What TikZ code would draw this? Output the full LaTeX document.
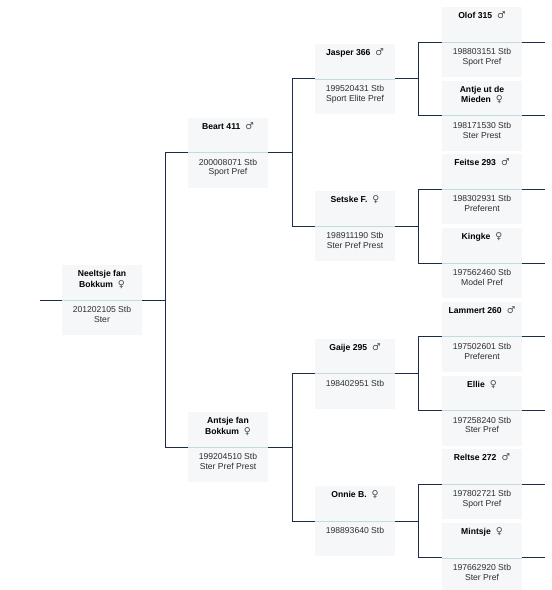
\documentclass[tikz,border=0pt]{standalone}
\usepackage{fontspec}
\setmainfont{Liberation Sans}
\newfontfamily\gsym{DejaVu Sans}
\definecolor{boxfill}{HTML}{F5F7F9}
\definecolor{sepcol}{HTML}{C3DCDA}
\definecolor{conncol}{HTML}{1E2B4A}
\definecolor{symgray}{HTML}{4A4A4A}
\definecolor{detcol}{HTML}{2E2E2E}
\newcommand\mal{\hspace{5pt}{\color{symgray}\normalfont\gsym\fontsize{9.5}{9.5}\selectfont ♂}}
\newcommand\fem{\hspace{5pt}{\color{symgray}\normalfont\gsym\fontsize{9.5}{9.5}\selectfont ♀}}
\newcommand\firststrut{\rule{0pt}{8pt}}
\tikzset{
  pbox/.style={rectangle, minimum width=80pt, minimum height=70pt, inner sep=0pt, fill=boxfill, draw=none},
  sepline/.style={draw=sepcol, line width=0.8pt},
  conn/.style={draw=conncol, line width=0.9pt},
  nametext/.style={inner sep=0pt, align=center, font=\fontsize{8.6}{10.5}\selectfont\bfseries, text=black},
  dettext/.style={inner sep=0pt, align=center, font=\fontsize{8.6}{9.8}\selectfont, text=detcol}
}
\newcommand\pedbox[5]{%
  \node[pbox] (#1) at (#2,#3) {};
  \draw[sepline] (#1.west) -- (#1.east);
  \node[nametext, anchor=north] (#1n) at ([yshift=-3.5pt]#1.north) {\firststrut#4};
  \node[dettext, anchor=north] (#1d) at ([yshift=-4.3pt]#1.center) {\firststrut#5};
}
\begin{document}
\begin{tikzpicture}[x=1pt,y=-1pt]
\useasboundingbox (0,0) rectangle (552,590);
% generation 0
\pedbox{p0}{102}{300}{Neeltsje fan\\Bokkum\fem}{201202105 Stb\\Ster}
% generation 1
\pedbox{p1}{228}{152.6}{Beart 411\mal}{200008071 Stb\\Sport Pref}
\pedbox{p2}{228}{447.4}{Antsje fan\\Bokkum\fem}{199204510 Stb\\Ster Pref Prest}
% generation 2
\pedbox{p3}{355}{78.9}{Jasper 366\mal}{199520431 Stb\\Sport Elite Pref}
\pedbox{p4}{355}{226.3}{Setske F.\fem}{198911190 Stb\\Ster Pref Prest}
\pedbox{p5}{355}{373.7}{Gaije 295\mal}{198402951 Stb}
\pedbox{p6}{355}{521.1}{Onnie B.\fem}{198893640 Stb}
% generation 3
\pedbox{p7}{482}{42}{Olof 315\mal}{198803151 Stb\\Sport Pref}
\pedbox{p8}{482}{115.7}{Antje ut de\\Mieden\fem}{198171530 Stb\\Ster Prest}
\pedbox{p9}{482}{189.4}{Feitse 293\mal}{198302931 Stb\\Preferent}
\pedbox{p10}{482}{263.1}{Kingke\fem}{197562460 Stb\\Model Pref}
\pedbox{p11}{482}{336.8}{Lammert 260\mal}{197502601 Stb\\Preferent}
\pedbox{p12}{482}{410.5}{Ellie\fem}{197258240 Stb\\Ster Pref}
\pedbox{p13}{482}{484.2}{Reltse 272\mal}{197802721 Stb\\Sport Pref}
\pedbox{p14}{482}{557.9}{Mintsje\fem}{197662920 Stb\\Ster Pref}
% connectors
\coordinate (in0) at ([xshift=-22pt]p0.west);
\draw[conn] (in0) -- (p0.west);
\coordinate (j0) at ([xshift=23pt]p0.east);
\draw[conn] (p0.east) -- (j0);
\draw[conn] (j0) |- (p1.west);
\draw[conn] (j0) |- (p2.west);
\coordinate (j1) at ([xshift=24pt]p1.east);
\draw[conn] (p1.east) -- (j1);
\draw[conn] (j1) |- (p3.west);
\draw[conn] (j1) |- (p4.west);
\coordinate (j2) at ([xshift=24pt]p2.east);
\draw[conn] (p2.east) -- (j2);
\draw[conn] (j2) |- (p5.west);
\draw[conn] (j2) |- (p6.west);
\coordinate (j3) at ([xshift=23pt]p3.east);
\draw[conn] (p3.east) -- (j3);
\draw[conn] (j3) |- (p7.west);
\draw[conn] (j3) |- (p8.west);
\coordinate (j4) at ([xshift=23pt]p4.east);
\draw[conn] (p4.east) -- (j4);
\draw[conn] (j4) |- (p9.west);
\draw[conn] (j4) |- (p10.west);
\coordinate (j5) at ([xshift=23pt]p5.east);
\draw[conn] (p5.east) -- (j5);
\draw[conn] (j5) |- (p11.west);
\draw[conn] (j5) |- (p12.west);
\coordinate (j6) at ([xshift=23pt]p6.east);
\draw[conn] (p6.east) -- (j6);
\draw[conn] (j6) |- (p13.west);
\draw[conn] (j6) |- (p14.west);
\foreach \k in {7,...,14}{
  \coordinate (o\k) at ([xshift=23pt]p\k.east);
  \draw[conn] (p\k.east) -- (o\k);
}
\end{tikzpicture}
\end{document}
